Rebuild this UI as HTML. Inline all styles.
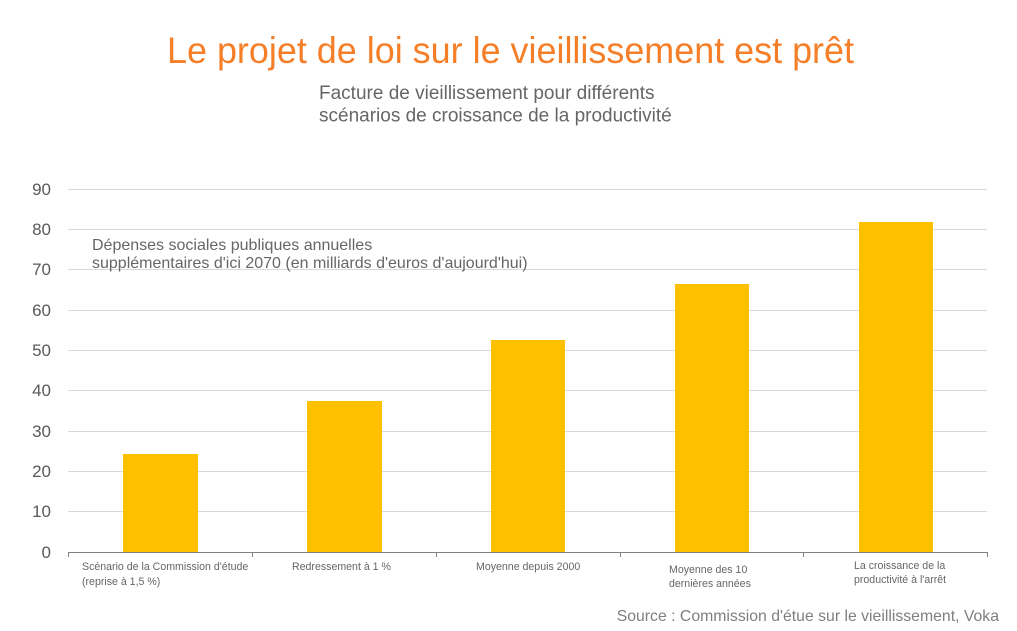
<!DOCTYPE html>
<html>
<head>
<meta charset="utf-8">
<style>
  html, body { margin: 0; padding: 0; background: #ffffff; }
  body { width: 1017px; height: 631px; overflow: hidden; }
  svg { display: block; font-family: "Liberation Sans", Arial, sans-serif; }
</style>
</head>
<body>
<svg width="1017" height="631" viewBox="0 0 1017 631" xmlns="http://www.w3.org/2000/svg">
  <rect x="0" y="0" width="1017" height="631" fill="#ffffff"/>

  <!-- Title -->
  <text x="167" y="63" font-size="37" fill="#f57f29" textLength="687" lengthAdjust="spacingAndGlyphs">Le projet de loi sur le vieillissement est prêt</text>

  <!-- Subtitle -->
  <text x="319" y="99" font-size="19" fill="#666666">Facture de vieillissement pour différents</text>
  <text x="319" y="121.5" font-size="19" fill="#666666">scénarios de croissance de la productivité</text>

  <!-- Gridlines -->
  <g stroke="#d9d9d9" stroke-width="1">
    <line x1="68" y1="189.5" x2="987" y2="189.5"/>
    <line x1="68" y1="229.5" x2="987" y2="229.5"/>
    <line x1="68" y1="269.5" x2="987" y2="269.5"/>
    <line x1="68" y1="310.5" x2="987" y2="310.5"/>
    <line x1="68" y1="350.5" x2="987" y2="350.5"/>
    <line x1="68" y1="390.5" x2="987" y2="390.5"/>
    <line x1="68" y1="431.5" x2="987" y2="431.5"/>
    <line x1="68" y1="471.5" x2="987" y2="471.5"/>
    <line x1="68" y1="511.5" x2="987" y2="511.5"/>
  </g>

  <!-- Y axis labels -->
  <g font-size="17" fill="#595959" text-anchor="end">
    <text x="51" y="195">90</text>
    <text x="51" y="235">80</text>
    <text x="51" y="275">70</text>
    <text x="51" y="316">60</text>
    <text x="51" y="356">50</text>
    <text x="51" y="396">40</text>
    <text x="51" y="437">30</text>
    <text x="51" y="477">20</text>
    <text x="51" y="517">10</text>
    <text x="51" y="558">0</text>
  </g>

  <!-- Annotation -->
  <text x="92" y="250" font-size="16" fill="#666666">Dépenses sociales publiques annuelles</text>
  <text x="92" y="268" font-size="16" fill="#666666">supplémentaires d'ici 2070 (en milliards d'euros d'aujourd'hui)</text>

  <!-- Bars -->
  <g fill="#ffc000">
    <rect x="123" y="454" width="75" height="98"/>
    <rect x="307" y="401" width="75" height="151"/>
    <rect x="491" y="340" width="74" height="212"/>
    <rect x="675" y="284" width="74" height="268"/>
    <rect x="859" y="222" width="74" height="330"/>
  </g>

  <!-- X axis -->
  <g stroke="#808080" stroke-width="1">
    <line x1="68" y1="552.5" x2="987.5" y2="552.5"/>
    <line x1="68.5" y1="552" x2="68.5" y2="557"/>
    <line x1="252.5" y1="552" x2="252.5" y2="557"/>
    <line x1="436.5" y1="552" x2="436.5" y2="557"/>
    <line x1="620.5" y1="552" x2="620.5" y2="557"/>
    <line x1="803.5" y1="552" x2="803.5" y2="557"/>
    <line x1="987.5" y1="552" x2="987.5" y2="557"/>
  </g>

  <!-- Category labels -->
  <g font-size="10.6" fill="#666666">
    <text x="82" y="570">Scénario de la Commission d'étude</text>
    <text x="82" y="585">(reprise à 1,5 %)</text>
    <text x="292" y="570">Redressement à 1 %</text>
    <text x="476" y="570">Moyenne depuis 2000</text>
    <text x="669" y="573">Moyenne des 10</text>
    <text x="669" y="587">dernières années</text>
    <text x="854" y="569">La croissance de la</text>
    <text x="854" y="583">productivité à l'arrêt</text>
  </g>

  <!-- Source -->
  <text x="999" y="621" font-size="15.8" fill="#7f7f7f" text-anchor="end">Source : Commission d'étue sur le vieillissement, Voka</text>
</svg>
</body>
</html>
